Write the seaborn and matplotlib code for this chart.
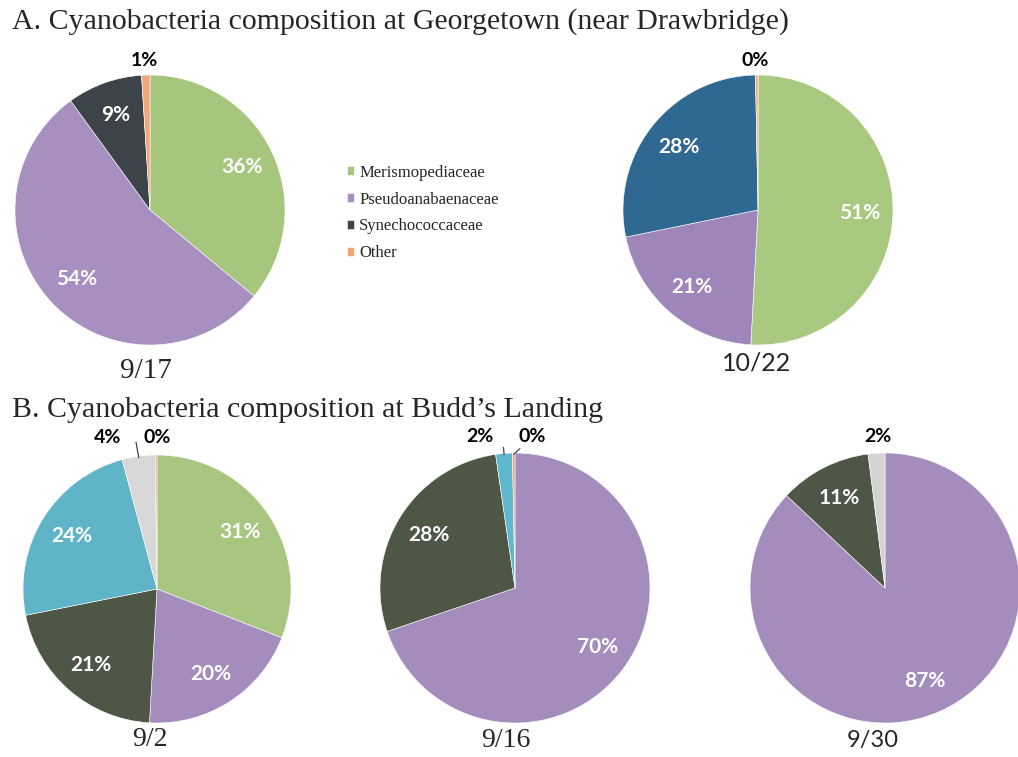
import numpy as np
import matplotlib
matplotlib.use("Agg")
import matplotlib.pyplot as plt
import seaborn as sns

# data (percent of cyanobacteria reads)
categories = ["Merismopediaceae", "Pseudoanabaenaceae", "Synechococcaceae", "Other"]

a1_date = "9/17"
a1_values = [36, 54, 9, 1]
a1_colors = ["#a7c67d", "#a78fc0", "#3d4449", "#f2a77b"]

a2_date = "10/22"
a2_values = [51, 21, 28, 0.3]
a2_colors = ["#a9c980", "#9f86ba", "#2f6890", "#f2a77b"]

b1_date = "9/2"
b1_values = [31, 20, 21, 24, 4, 0.2]
b1_colors = ["#a8c67f", "#a48cbd", "#4e5646", "#5fb4c8", "#d7d7d7", "#f0a080"]

b2_date = "9/16"
b2_values = [70, 28, 2, 0.3]
b2_colors = ["#a48cbd", "#4e5646", "#5fb8cc", "#f0a080"]

b3_date = "9/30"
b3_values = [87, 11, 2]
b3_colors = ["#a48cbd", "#4e5646", "#d3d3d3"]

sns.set_theme(style="white")
plt.rcParams["font.family"] = ["Liberation Serif", "DejaVu Serif"]

W, H = 1018, 757
fig = plt.figure(figsize=(W / 100, H / 100), dpi=100)


def pie_axes(cx, cy, r):
    # axes placed in pixel coords of the figure
    ax = fig.add_axes([(cx - r) / W, 1 - (cy + r) / H, 2 * r / W, 2 * r / H])
    ax.axis("off")
    return ax


def draw_pie(ax, values, colors, outside, leaders=(), date="", date_font=None,
             date_size=20, date_xy=(0, -1.19)):
    wedges, _ = ax.pie(values, colors=colors, startangle=90, counterclock=False,
                       radius=1, wedgeprops=dict(edgecolor="white", linewidth=0.4))
    ax.set_xlim(-1, 1)
    ax.set_ylim(-1, 1)
    ax.set_aspect("equal")
    for i, (w, v) in enumerate(zip(wedges, values)):
        ang = np.deg2rad((w.theta1 + w.theta2) / 2)
        txt = f"{v:.0f}%"
        if i in outside:
            x, y = outside[i]
            if i in leaders:
                ax.annotate(txt, xy=(np.cos(ang) * 0.99, np.sin(ang) * 0.99), xytext=(x, y),
                            ha="center", va="center", fontsize=14, fontweight="bold",
                            family=["Lato", "DejaVu Sans"], color="black",
                            arrowprops=dict(arrowstyle="-", color="#444444", lw=0.9,
                                            shrinkA=9, shrinkB=0,
                                            connectionstyle=leaders[i]),
                            annotation_clip=False)
            else:
                ax.text(x, y, txt, ha="center", va="center", fontsize=14, fontweight="bold",
                        family=["Lato", "DejaVu Sans"], color="black", clip_on=False)
        else:
            ax.text(np.cos(ang) * 0.75, np.sin(ang) * 0.75, txt, ha="center", va="center",
                    fontsize=15, fontweight="bold", family=["Lato", "DejaVu Sans"], color="white")
    ax.text(date_xy[0], date_xy[1], date, ha="center", va="center", fontsize=date_size,
            family=date_font or ["Liberation Serif"], clip_on=False)
    return wedges


fig.text(12 / W, 1 - 22 / H, "A. Cyanobacteria composition at Georgetown (near Drawbridge)",
         fontsize=21.5, ha="left", va="center")
fig.text(12 / W, 1 - 410 / H, "B. Cyanobacteria composition at Budd\u2019s Landing",
         fontsize=21.5, ha="left", va="center")

ax1 = pie_axes(150, 210, 135)
w1 = draw_pie(ax1, a1_values, a1_colors, outside={3: (-0.04, 1.11)},
              date=a1_date, date_size=21, date_xy=(-0.03, -1.19))

ax2 = pie_axes(758, 210, 135)
draw_pie(ax2, a2_values, a2_colors, outside={3: (-0.02, 1.11)},
         date=a2_date, date_font=["Lato"], date_size=18, date_xy=(-0.01, -1.13))

ax3 = pie_axes(157, 589, 134)
draw_pie(ax3, b1_values, b1_colors, outside={4: (-0.37, 1.13), 5: (0.0, 1.13)},
         leaders={4: "angle,angleA=0,angleB=100,rad=0"}, date=b1_date, date_size=20,
         date_xy=(-0.05, -1.12))

ax4 = pie_axes(515, 588, 135)
draw_pie(ax4, b2_values, b2_colors, outside={2: (-0.26, 1.12), 3: (0.13, 1.12)},
         leaders={2: "angle,angleA=0,angleB=95,rad=0", 3: "arc3,rad=0"},
         date=b2_date, date_size=20, date_xy=(-0.07, -1.13))

ax5 = pie_axes(885, 588, 135)
draw_pie(ax5, b3_values, b3_colors, outside={2: (-0.05, 1.12)},
         date=b3_date, date_font=["Lato"], date_size=17, date_xy=(-0.09, -1.13))

fig.legend(w1, categories, loc="upper left", bbox_to_anchor=(340 / W, 1 - 158 / H),
           frameon=False, fontsize=12, handlelength=0.45, handleheight=0.45,
           handletextpad=0.3, labelspacing=0.65, borderaxespad=0)

fig.savefig("out.png", dpi=100)
